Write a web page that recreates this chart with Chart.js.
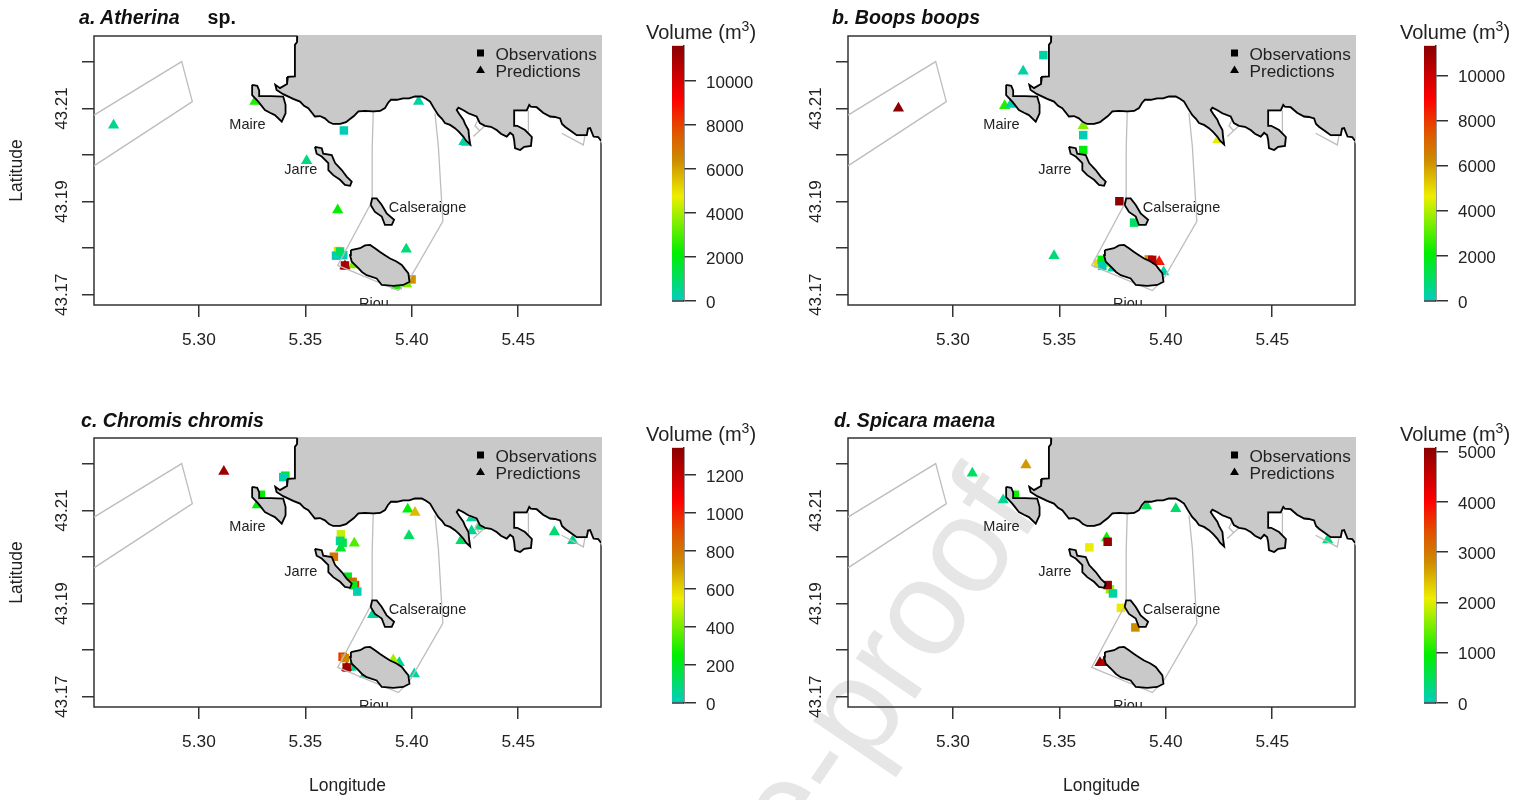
<!DOCTYPE html>
<html>
<head>
<meta charset="utf-8">
<title>Volume maps</title>
<script src="https://cdn.jsdelivr.net/npm/chart.js@4/dist/chart.umd.min.js"></script>
<style>
	html, body { margin: 0; padding: 0; background: #fff; }
	body { position: relative; width: 1524px; height: 800px; overflow: hidden; font-family: "Liberation Sans", Arial, sans-serif; color: #222; }
	canvas { position: absolute; z-index: 1; }
	.title { position: absolute; z-index: 2; font-size: 19.6px; line-height: 22px; font-weight: bold; white-space: pre; color: #111; }
	.vol { position: absolute; z-index: 2; font-size: 20px; line-height: 24px; white-space: pre; }
	.vol sup { font-size: 14px; line-height: 0; vertical-align: 8px; }
	#mark { position: absolute; z-index: 0; left: 450px; top: 1265.6px; font-size: 136px; line-height: 136px; color: #e6e6e6; white-space: pre; transform-origin: 0 115px; transform: rotate(-55.7deg); }
</style>
</head>
<body>
<div id="mark">Journal Pre-proof</div>
<div class="title" style="left:79px;top:6px"><i>a. Atherina</i><span style="margin-left:28px">sp.</span></div>
<div class="title" style="left:832px;top:6px"><i>b. Boops boops</i></div>
<div class="title" style="left:81px;top:409px"><i>c. Chromis chromis</i></div>
<div class="title" style="left:834px;top:409px"><i>d. Spicara maena</i></div>
<div class="vol" style="left:646px;top:20px">Volume (m<sup>3</sup>)</div>
<div class="vol" style="left:1400px;top:20px">Volume (m<sup>3</sup>)</div>
<div class="vol" style="left:646px;top:422px">Volume (m<sup>3</sup>)</div>
<div class="vol" style="left:1400px;top:422px">Volume (m<sup>3</sup>)</div>
<canvas id="mapA" width="640" height="400" style="left:0;top:0"></canvas>
<canvas id="mapB" width="640" height="400" style="left:754px;top:0"></canvas>
<canvas id="mapC" width="640" height="400" style="left:0;top:402px"></canvas>
<canvas id="mapD" width="640" height="400" style="left:754px;top:402px"></canvas>
<canvas id="barA" width="100" height="330" style="left:660px;top:0"></canvas>
<canvas id="barB" width="100" height="330" style="left:1412px;top:0"></canvas>
<canvas id="barC" width="100" height="330" style="left:660px;top:402px"></canvas>
<canvas id="barD" width="100" height="330" style="left:1412px;top:402px"></canvas>
<script>
// axis ranges and ticks
const lonMin = 5.2507, lonMax = 5.4889, latMin = 43.1678, latMax = 43.2256;
const lonTicks = [5.30, 5.35, 5.40, 5.45];
const latTicks = [43.17, 43.18, 43.19, 43.20, 43.21, 43.22];
const latLabels = ['43.17', '43.19', '43.21'];

// mainland coast, west to east
const coastLon = [5.3462,5.3461,5.3451,5.3451,5.3418,5.3414,5.3381,5.3359,5.3365,5.3396,5.3443,5.3475,5.3494,5.3514,5.3531,5.3545,5.3569,5.3592,5.3611,5.3631,5.3663,5.3691,5.3705,5.3728,5.3749,5.3780,5.3819,5.3851,5.3874,5.3888,5.3902,5.3930,5.3959,5.3987,5.4015,5.4047,5.4067,5.4086,5.4104,5.4125,5.4142,5.4156,5.4180,5.4203,5.4222,5.4242,5.4255,5.4274,5.4269,5.4266,5.4250,5.4242,5.4222,5.4211,5.4219,5.4241,5.4266,5.4305,5.4320,5.4344,5.4372,5.4399,5.4419,5.4446,5.4462,5.4476,5.4481,5.4485,5.4509,5.4528,5.4560,5.4564,5.4532,5.4495,5.4481,5.4481,5.4481,5.4509,5.4540,5.4552,5.4560,5.4587,5.4617,5.4650,5.4673,5.4697,5.4706,5.4720,5.4748,5.4775,5.4795,5.4822,5.4828,5.4838,5.4854,5.4876,5.4889];
const coastLat = [43.2256,43.2243,43.2237,43.2169,43.2168,43.2153,43.2144,43.2151,43.2140,43.2131,43.2121,43.2115,43.2106,43.2101,43.2091,43.2083,43.2084,43.2079,43.2071,43.2067,43.2067,43.2071,43.2076,43.2084,43.2094,43.2095,43.2094,43.2095,43.2101,43.2112,43.2119,43.2119,43.2122,43.2122,43.2126,43.2126,43.2121,43.2115,43.2101,43.2086,43.2078,43.2069,43.2065,43.2058,43.2050,43.2040,43.2031,43.2023,43.2039,43.2054,43.2067,43.2076,43.2089,43.2097,43.2102,43.2097,43.2090,43.2083,43.2069,43.2063,43.2061,43.2054,43.2046,43.2040,43.2048,43.2043,43.2033,43.2015,43.2011,43.2018,43.2020,43.2039,43.2054,43.2063,43.2063,43.2080,43.2096,43.2096,43.2096,43.2108,43.2104,43.2103,43.2091,43.2083,43.2082,43.2079,43.2067,43.2061,43.2052,43.2043,43.2043,43.2043,43.2057,43.2058,43.2040,43.2039,43.2031];

// islands
const maireLon = [5.3250,5.3274,5.3283,5.3283,5.3338,5.3396,5.3407,5.3407,5.3389,5.3357,5.3334,5.3310,5.3291,5.3279,5.3250,5.3250];
const maireLat = [43.2151,43.2149,43.2139,43.2127,43.2127,43.2126,43.2108,43.2090,43.2072,43.2086,43.2091,43.2097,43.2108,43.2115,43.2129,43.2151];
const jarreLon = [5.3545,5.3577,5.3584,5.3624,5.3640,5.3671,5.3694,5.3718,5.3710,5.3686,5.3663,5.3631,5.3608,5.3608,5.3577,5.3553,5.3545];
const jarreLat = [43.2018,43.2015,43.2003,43.2000,43.1983,43.1968,43.1954,43.1943,43.1934,43.1936,43.1947,43.1957,43.1968,43.1983,43.1997,43.2003,43.2018];
const calsLon = [5.3807,5.3827,5.3859,5.3874,5.3906,5.3917,5.3882,5.3859,5.3835,5.3814,5.3807];
const calsLat = [43.1893,43.1878,43.1868,43.1850,43.1850,43.1861,43.1875,43.1893,43.1907,43.1907,43.1893];
const riouLon = [5.3714,5.3757,5.3780,5.3804,5.3827,5.3851,5.3874,5.3898,5.3926,5.3953,5.3968,5.3984,5.3989,5.3960,5.3913,5.3859,5.3835,5.3788,5.3766,5.3749,5.3718,5.3710,5.3714];
const riouLat = [43.1796,43.1800,43.1806,43.1807,43.1800,43.1792,43.1785,43.1778,43.1772,43.1764,43.1755,43.1746,43.1728,43.1721,43.1719,43.1721,43.1735,43.1742,43.1749,43.1757,43.1771,43.1785,43.1796];

// protected area outlines
const offshoreLon = [5.2507,5.2919,5.2969,5.2507];
const offshoreLat = [43.2086,43.2201,43.2115,43.1977];
const parkLon = [5.3819,5.3814,5.3814,5.3804,5.3652,5.3937,5.3992,5.4146,5.4137,5.4125,5.4109];
const parkLat = [43.2094,43.2015,43.1907,43.1893,43.1763,43.1709,43.1736,43.1858,43.1925,43.2018,43.2090];
const inletLon = [5.4289,5.4344,5.4311,5.4297,5.4320];
const inletLat = [43.2040,43.2063,43.2076,43.2063,43.2052];
const bayLon = [5.4548,5.4548];
const bayLat = [43.2096,43.2043];
const eastLon = [5.4704,5.4806,5.4814];
const eastLat = [43.2047,43.2022,43.2043];

// place names
const placeNames = ['Maire', 'Jarre', 'Calseraigne', 'Riou'];
const placeLon = [5.3228, 5.3479, 5.4074, 5.3822];
const placeLat = [43.2067, 43.1970, 43.1889, 43.1682];

// a. Atherina sp.
const obsLonA = [5.3653,5.3681,5.3644,5.3678,5.3663,5.3686,5.3999];
const obsLatA = [43.1794,43.2053,43.1784,43.1785,43.1793,43.1763,43.1733];
const obsVolA = [4500,100,100,100,1000,11000,6300];
const predLonA = [5.2599,5.3263,5.3506,5.3652,5.3974,5.4032,5.4245,5.4258,5.3725,5.3686,5.3929,5.3976];
const predLatA = [43.2064,43.2115,43.1988,43.1882,43.1798,43.2115,43.2029,43.2027,43.1764,43.1762,43.1719,43.1723];
const predVolA = [500,2500,700,2200,800,300,300,300,3500,11000,2500,3500];

// b. Boops boops
const obsLonB = [5.3425,5.3612,5.3612,5.3782,5.3851,5.3681,5.3699,5.3702,5.3920,5.3936];
const obsLatB = [43.2215,43.2043,43.2011,43.1901,43.1855,43.1767,43.1775,43.1762,43.1776,43.1775];
const obsVolB = [300,100,2000,11300,1000,5000,2000,100,6000,10500];
const predLonB = [5.2744,5.3330,5.3243,5.3271,5.3612,5.3475,5.3969,5.4245,5.3712,5.3751,5.3990];
const predLatB = [43.2101,43.2180,43.2106,43.2109,43.2063,43.1784,43.1771,43.2033,43.1767,43.1757,43.1749];
const predVolB = [11300,300,2500,200,3500,800,8500,4500,3500,300,300];

// c. Chromis chromis
const obsLonC = [5.3406,5.3396,5.3291,5.3667,5.3663,5.3675,5.3634,5.3699,5.3722,5.3733,5.3725,5.3744,5.3675,5.3686,5.3694];
const obsLatC = [43.2175,43.2172,43.2134,43.2049,43.2035,43.2031,43.2001,43.1958,43.1947,43.1940,43.1940,43.1926,43.1786,43.1783,43.1763];
const obsVolC = [200,20,250,500,30,150,800,200,850,1000,220,20,950,750,1300];
const predLonC = [5.3117,5.3274,5.3666,5.3730,5.3981,5.4015,5.3987,5.4231,5.4281,5.4281,5.4320,5.4670,5.4756,5.4012,5.3941,5.3913,5.3780,5.3714,5.3694,5.3816];
const predLatC = [43.2184,43.2112,43.2019,43.2030,43.2103,43.2096,43.2046,43.2035,43.2084,43.2056,43.2066,43.2054,43.2035,43.1749,43.1773,43.1779,43.1748,43.1763,43.1763,43.1876];
const predVolC = [1300,250,200,350,250,650,120,120,60,60,100,100,70,50,50,450,40,60,1300,50];

// d. Spicara maena
const obsLonD = [5.3291,5.3641,5.3727,5.3738,5.3727,5.3752,5.3789,5.3857];
const obsLatD = [43.2134,43.2021,43.2033,43.1931,43.1940,43.1922,43.1891,43.1849];
const obsVolD = [1000,2100,5000,1700,5000,150,2100,2800];
const predLonD = [5.3091,5.3343,5.3236,5.3910,5.4047,5.3722,5.4761,5.3691,5.3710];
const predLatD = [43.2180,43.2198,43.2123,43.2110,43.2104,43.2041,43.2037,43.1773,43.1773];
const predVolD = [450,2700,200,500,400,1000,300,5000,4700];

// colour bars
const volMaxA = 11600, volMaxB = 11310, volMaxC = 1343, volMaxD = 5080;
const volTicksA = [0, 2000, 4000, 6000, 8000, 10000];
const volTicksB = [0, 2000, 4000, 6000, 8000, 10000];
const volTicksC = [0, 200, 400, 600, 800, 1000, 1200];
const volTicksD = [0, 1000, 2000, 3000, 4000, 5000];

// colour ramp, low to high
const rampAt = [0, 0.187, 0.41, 0.55, 0.67, 0.79, 1];
const rampRgb = [[0, 205, 190], [0, 238, 0], [238, 238, 0], [205, 140, 0], [225, 80, 0], [255, 0, 0], [139, 0, 0]];

const axisColor = '#333';
const textColor = '#222';
const landColor = '#c9c9c9';
const fontName = '"Liberation Sans", Arial, sans-serif';

function toPoints(lons, lats) {
	return lons.map((x, i) => ({ x: x, y: lats[i] }));
}

function volColor(vol, max) {
	const t = Math.min(vol / max, 1);
	let i = 0;
	while (i < rampAt.length - 2 && t > rampAt[i + 1]) i++;
	const f = (t - rampAt[i]) / (rampAt[i + 1] - rampAt[i]);
	const c = rampRgb[i].map((v, k) => Math.round(v + (rampRgb[i + 1][k] - v) * f));
	return 'rgb(' + c.join(',') + ')';
}

function greyLine(lons, lats) {
	return { data: toPoints(lons, lats), showLine: true, borderColor: '#bdbdbd', borderWidth: 1.3, pointRadius: 0, order: 3 };
}

function island(lons, lats) {
	return { data: toPoints(lons, lats), showLine: true, fill: 'shape', backgroundColor: landColor, borderColor: '#000', borderWidth: 1.8, pointRadius: 0, order: 1 };
}

// frame, place names and the marker key inside each map
const mapDecor = {
	id: 'mapDecor',
	beforeDatasetsDraw(chart) {
		const a = chart.chartArea, ctx = chart.ctx;
		ctx.save();
		ctx.strokeStyle = axisColor;
		ctx.lineWidth = 1.5;
		ctx.strokeRect(a.left, a.top, a.right - a.left, a.bottom - a.top);
		ctx.restore();
	},
	afterDatasetsDraw(chart) {
		const a = chart.chartArea, ctx = chart.ctx;
		ctx.save();
		ctx.beginPath();
		ctx.rect(a.left, a.top, a.right - a.left, a.bottom - a.top);
		ctx.clip();
		ctx.fillStyle = textColor;
		ctx.font = '14.5px ' + fontName;
		ctx.textAlign = 'center';
		ctx.textBaseline = 'middle';
		placeNames.forEach((name, i) => {
			ctx.fillText(name, chart.scales.x.getPixelForValue(placeLon[i]), chart.scales.y.getPixelForValue(placeLat[i]) + 1);
		});
		// key
		ctx.fillStyle = '#000';
		ctx.fillRect(a.right - 124, a.top + 13.5, 7, 7);
		ctx.beginPath();
		ctx.moveTo(a.right - 120.5, a.top + 29.5);
		ctx.lineTo(a.right - 116, a.top + 37);
		ctx.lineTo(a.right - 125, a.top + 37);
		ctx.closePath();
		ctx.fill();
		ctx.fillStyle = textColor;
		ctx.font = '17.2px ' + fontName;
		ctx.textAlign = 'left';
		ctx.fillText('Observations', a.right - 105.5, a.top + 19.5);
		ctx.fillText('Predictions', a.right - 105.5, a.top + 36.5);
		ctx.restore();
	},
};

function drawMap(id, obsLon, obsLat, obsVol, predLon, predLat, predVol, volMax, showLat, showLon) {
	new Chart(document.getElementById(id), {
		type: 'scatter',
		data: {
			datasets: [
				{
					label: 'Predictions',
					data: toPoints(predLon, predLat),
					pointStyle: 'triangle',
					pointRadius: 6.5,
					pointBorderWidth: 0,
					pointBackgroundColor: predVol.map((v) => volColor(v, volMax)),
					order: 5,
				},
				{
					label: 'Observations',
					data: toPoints(obsLon, obsLat),
					pointStyle: 'rect',
					pointRadius: 6,
					pointBorderWidth: 0,
					pointBackgroundColor: obsVol.map((v) => volColor(v, volMax)),
					order: 4,
				},
				greyLine(offshoreLon, offshoreLat),
				greyLine(parkLon, parkLat),
				greyLine(inletLon, inletLat),
				greyLine(bayLon, bayLat),
				greyLine(eastLon, eastLat),
				{
					// land fill runs out to the corner so it hides the frame there
					data: toPoints(coastLon.concat([lonMax, coastLon[0]]), coastLat.concat([latMax, latMax])),
					showLine: true,
					fill: 'shape',
					backgroundColor: landColor,
					borderColor: landColor,
					borderWidth: 2,
					pointRadius: 0,
					clip: false,
					order: 2,
				},
				{
					data: toPoints(coastLon, coastLat),
					showLine: true,
					borderColor: '#000',
					borderWidth: 1.8,
					pointRadius: 0,
					order: 0,
				},
				island(maireLon, maireLat),
				island(jarreLon, jarreLat),
				island(calsLon, calsLat),
				island(riouLon, riouLat),
			],
		},
		options: {
			responsive: false,
			animation: false,
			events: [],
			layout: { padding: { top: 36, right: 39, left: 0, bottom: 0 } },
			plugins: { legend: { display: false }, tooltip: { enabled: false } },
			scales: {
				x: {
					type: 'linear',
					min: lonMin,
					max: lonMax,
					afterBuildTicks: (s) => { s.ticks = lonTicks.map((v) => ({ value: v })); },
					afterFit: (s) => { s.height = 95; },
					border: { display: false },
					grid: { drawOnChartArea: false, tickLength: 12, color: axisColor, lineWidth: 1.5 },
					ticks: {
						autoSkip: false,
						maxRotation: 0,
						padding: 13,
						color: textColor,
						font: { family: fontName, size: 17.3 },
						callback: (v) => v.toFixed(2),
					},
					title: {
						display: showLon,
						text: 'Longitude',
						color: textColor,
						font: { family: fontName, size: 17.5 },
						padding: { top: 0, bottom: 5 },
					},
				},
				y: {
					type: 'linear',
					min: latMin,
					max: latMax,
					afterBuildTicks: (s) => { s.ticks = latTicks.map((v) => ({ value: v })); },
					afterFit: (s) => { s.width = 94; },
					border: { display: false },
					grid: { drawOnChartArea: false, tickLength: 12, color: axisColor, lineWidth: 1.5 },
					ticks: {
						autoSkip: false,
						minRotation: 90,
						maxRotation: 90,
						crossAlign: 'center',
						padding: -2,
						color: textColor,
						font: { family: fontName, size: 17 },
						callback: (v) => (latLabels.includes(v.toFixed(2)) ? v.toFixed(2) : ''),
					},
					title: {
						display: showLat,
						text: 'Latitude',
						color: textColor,
						font: { family: fontName, size: 17.5 },
						padding: { top: 6.5, bottom: 0 },
					},
				},
			},
		},
		plugins: [mapDecor],
	});
}

// closes the bar at its base
const barBase = {
	id: 'barBase',
	afterDraw(chart) {
		const a = chart.chartArea, ctx = chart.ctx;
		ctx.save();
		ctx.strokeStyle = axisColor;
		ctx.lineWidth = 1.5;
		ctx.beginPath();
		ctx.moveTo(a.left, a.bottom);
		ctx.lineTo(a.right, a.bottom);
		ctx.stroke();
		ctx.restore();
	},
};

function drawBar(id, volMax, volTicks, top, bottom) {
	new Chart(document.getElementById(id), {
		type: 'bar',
		data: {
			labels: ['Volume'],
			datasets: [
				{
					data: [[0, volMax]],
					barPercentage: 1,
					categoryPercentage: 1,
					backgroundColor: (c) => {
						const a = c.chart.chartArea;
						if (!a) return '#000';
						const g = c.chart.ctx.createLinearGradient(0, a.bottom, 0, a.top);
						rampAt.forEach((t, i) => g.addColorStop(t, 'rgb(' + rampRgb[i].join(',') + ')'));
						return g;
					},
				},
			],
		},
		options: {
			responsive: false,
			animation: false,
			events: [],
			layout: { padding: { left: 12, top: top, bottom: 330 - bottom, right: 0 } },
			plugins: { legend: { display: false }, tooltip: { enabled: false } },
			scales: {
				x: { display: false },
				y: {
					position: 'right',
					min: 0,
					max: volMax,
					afterBuildTicks: (s) => { s.ticks = volTicks.map((v) => ({ value: v })); },
					afterFit: (s) => { s.width = 76; },
					border: { color: axisColor, width: 1.5 },
					grid: { drawOnChartArea: false, tickLength: 12, color: axisColor, lineWidth: 1.5 },
					ticks: {
						autoSkip: false,
						padding: 10,
						labelOffset: 2,
						color: textColor,
						font: { family: fontName, size: 17 },
						callback: (v) => String(v),
					},
				},
			},
		},
		plugins: [barBase],
	});
}

drawMap('mapA', obsLonA, obsLatA, obsVolA, predLonA, predLatA, predVolA, volMaxA, true, false);
drawMap('mapB', obsLonB, obsLatB, obsVolB, predLonB, predLatB, predVolB, volMaxB, false, false);
drawMap('mapC', obsLonC, obsLatC, obsVolC, predLonC, predLatC, predVolC, volMaxC, true, true);
drawMap('mapD', obsLonD, obsLatD, obsVolD, predLonD, predLatD, predVolD, volMaxD, false, true);

drawBar('barA', volMaxA, volTicksA, 45.7, 301);
drawBar('barB', volMaxB, volTicksB, 45.7, 301);
drawBar('barC', volMaxC, volTicksC, 45.7, 301);
drawBar('barD', volMaxD, volTicksD, 45.7, 301);
</script>
</body>
</html>
